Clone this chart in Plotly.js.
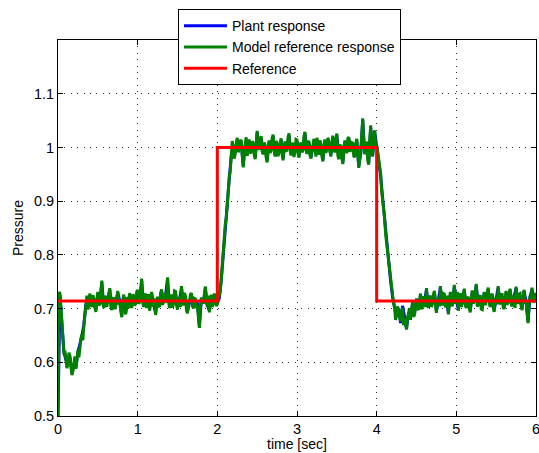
<!DOCTYPE html>
<html>
<head>
<meta charset="utf-8">
<script src="https://cdn.plot.ly/plotly-3.0.1.min.js"></script>
<style>
  html, body { margin: 0; padding: 0; background: #fff; }
  #plot { width: 539px; height: 453px; }
</style>
</head>
<body>
<div id="plot"></div>
<script>
// Sample periods of the logged signals [sec]
const modelSampleTime = 0.0125;
const plantSampleTime = 0.025;

// Model reference response (0 .. 6 s)
const modelResponse = [
  // start-up transient
  0.500, 0.731, 0.728, 0.702, 0.668, 0.641, 0.615, 0.621, 0.607, 0.589,
  0.598, 0.618, 0.612, 0.592, 0.576, 0.584, 0.601, 0.611, 0.588, 0.603,
  0.622, 0.609, 0.631, 0.644, 0.652, 0.641, 0.668, 0.689, 0.712, 0.724,
  // first low set-point
  0.698, 0.716, 0.728, 0.709, 0.703, 0.725, 0.719, 0.702, 0.694, 0.713,
  0.731, 0.706, 0.708, 0.729, 0.752, 0.712, 0.701, 0.719, 0.724, 0.703,
  0.712, 0.727, 0.738, 0.705, 0.697, 0.718, 0.721, 0.699, 0.706, 0.722,
  0.733, 0.708, 0.711, 0.697, 0.684, 0.715, 0.726, 0.704, 0.689, 0.721,
  0.717, 0.701, 0.729, 0.711, 0.701, 0.726, 0.724, 0.706, 0.709, 0.731,
  0.735, 0.709, 0.712, 0.724, 0.756, 0.713, 0.703, 0.722, 0.728, 0.701,
  0.714, 0.727, 0.696, 0.712, 0.731, 0.704, 0.707, 0.719, 0.688, 0.709,
  0.722, 0.705, 0.703, 0.728, 0.736, 0.707, 0.712, 0.725, 0.727, 0.711,
  0.758, 0.716, 0.701, 0.724, 0.724, 0.702, 0.709, 0.733, 0.732, 0.708,
  0.698, 0.721, 0.719, 0.703, 0.742, 0.714, 0.706, 0.729, 0.723, 0.697,
  0.691, 0.712, 0.714, 0.726, 0.729, 0.704, 0.703, 0.719, 0.718, 0.701,
  0.707, 0.684, 0.664, 0.702, 0.721, 0.713, 0.709, 0.727, 0.741, 0.711,
  0.704, 0.724, 0.693, 0.709, 0.726, 0.703, 0.711, 0.728, 0.719, 0.705,
  0.708, 0.715,
  // step up
  0.722, 0.733, 0.758, 0.786, 0.801, 0.839, 0.858, 0.869, 0.897, 0.931,
  0.946, 0.957, 0.982, 1.012, 1.003, 0.979,
  // high set-point
  0.988, 1.006, 1.018, 0.991, 0.997, 1.014, 1.012, 0.985, 0.963, 0.994,
  1.006, 1.019, 0.984, 1.002, 1.015, 0.989, 0.992, 1.011, 1.009, 0.987,
  0.978, 1.004, 1.031, 0.998, 0.996, 1.016, 1.021, 0.993, 0.987, 1.009,
  1.004, 0.981, 0.972, 1.001, 1.013, 0.990, 0.994, 1.017, 1.024, 0.996,
  0.983, 1.012, 1.008, 0.984, 0.991, 1.005, 1.017, 0.988, 0.976, 1.003,
  1.011, 0.992, 0.997, 1.019, 1.026, 0.994, 0.985, 1.008, 1.006, 0.982,
  0.993, 1.015, 1.014, 0.989, 0.981, 1.004, 1.009, 0.991, 0.995, 1.021,
  1.029, 0.997, 0.988, 1.010, 1.012, 0.986, 0.979, 1.002, 1.003, 1.016,
  0.992, 0.983, 1.018, 1.001, 0.986, 1.013, 1.007, 0.984, 0.974, 0.999,
  1.015, 0.990, 0.996, 1.018, 1.011, 0.993, 0.983, 1.006, 1.022, 0.997,
  0.991, 1.012, 1.026, 0.985, 0.978, 1.003, 1.005, 0.981, 0.969, 0.995,
  1.013, 1.002, 0.989, 1.017, 1.019, 0.992, 0.995, 1.009, 1.008, 0.984,
  0.982, 1.006, 1.016, 0.991, 0.962, 0.979, 0.991, 1.023, 1.054, 1.009,
  0.987, 1.003, 1.011, 0.976, 0.968, 1.012, 1.041, 0.994, 0.983, 1.021,
  1.032, 1.001, 1.004, 0.993,
  // step down
  0.978, 0.969, 0.951, 0.918, 0.902, 0.889, 0.868, 0.838, 0.821, 0.806,
  0.782, 0.769, 0.748, 0.731, 0.724, 0.709, 0.702, 0.679, 0.688, 0.704,
  // undershoot
  0.697, 0.684, 0.676, 0.691, 0.702, 0.669, 0.683, 0.671, 0.661, 0.682,
  0.694, 0.701, 0.679, 0.693, 0.712, 0.685, 0.688, 0.706, 0.719, 0.701,
  0.697, 0.712, 0.728, 0.699, 0.704, 0.723, 0.716, 0.703,
  // second low set-point
  0.738, 0.712, 0.701, 0.721, 0.724, 0.703, 0.709, 0.726, 0.733, 0.708,
  0.692, 0.715, 0.719, 0.704, 0.742, 0.713, 0.706, 0.728, 0.727, 0.702,
  0.712, 0.724, 0.689, 0.707, 0.731, 0.711, 0.704, 0.722, 0.744, 0.709,
  0.718, 0.731, 0.696, 0.712, 0.729, 0.703, 0.711, 0.726, 0.737, 0.706,
  0.701, 0.719, 0.722, 0.701, 0.693, 0.716, 0.734, 0.709, 0.714, 0.727,
  0.746, 0.704, 0.707, 0.721, 0.725, 0.699, 0.698, 0.718, 0.731, 0.706,
  0.716, 0.729, 0.739, 0.711, 0.703, 0.723, 0.728, 0.702, 0.694, 0.717,
  0.721, 0.708, 0.742, 0.715, 0.708, 0.726, 0.726, 0.703, 0.699, 0.719,
  0.733, 0.707, 0.712, 0.728, 0.737, 0.709, 0.704, 0.722, 0.723, 0.701,
  0.741, 0.716, 0.709, 0.727, 0.728, 0.705, 0.697, 0.718, 0.735, 0.709,
  0.716, 0.694, 0.673, 0.708, 0.724, 0.712, 0.739, 0.721, 0.711, 0.726,
  0.729
];

// Measured plant response
const plantResponse = [
  0.500, 0.725, 0.671, 0.618, 0.604, 0.601, 0.609, 0.579, 0.598, 0.591, 0.619, 0.634, 0.649, 0.671, 0.709,
  0.701, 0.725, 0.706, 0.716, 0.697, 0.728, 0.711, 0.749, 0.704, 0.721,
  0.715, 0.735, 0.700, 0.718, 0.709, 0.730, 0.714, 0.687, 0.723, 0.692,
  0.714, 0.726, 0.704, 0.721, 0.712, 0.732, 0.715, 0.753, 0.706, 0.725,
  0.717, 0.699, 0.728, 0.710, 0.691, 0.719, 0.706, 0.733, 0.715, 0.724,
  0.755, 0.704, 0.721, 0.712, 0.729, 0.701, 0.716, 0.739, 0.709, 0.720,
  0.694, 0.711, 0.726, 0.706, 0.715, 0.710, 0.667, 0.718, 0.712, 0.738,
  0.707, 0.696, 0.723, 0.714, 0.716, 0.711,
  0.719, 0.754, 0.805, 0.853, 0.901, 0.942, 0.985, 1.000,
  0.991, 1.015, 1.000, 1.009, 0.966, 1.003, 0.987, 1.012, 0.995, 1.006,
  0.981, 1.028, 0.999, 1.018, 0.990, 1.001, 0.975, 1.010, 0.997, 1.021,
  0.986, 1.005, 0.994, 1.014, 0.979, 1.008, 1.000, 1.023, 0.988, 1.003,
  0.996, 1.011, 0.984, 1.006, 0.998, 1.026, 0.991, 1.009, 0.982, 1.000,
  0.995, 1.015, 0.989, 1.004, 0.977, 1.012, 0.999, 1.008, 0.986, 1.019,
  0.994, 1.023, 0.981, 1.002, 0.972, 1.010, 0.992, 1.016, 0.998, 1.005,
  0.985, 1.013, 0.965, 0.988, 1.051, 0.990, 1.008, 0.971, 1.038, 0.986,
  1.029, 1.001,
  0.981, 0.947, 0.906, 0.864, 0.825, 0.779, 0.751, 0.721, 0.705, 0.685,
  0.700, 0.673, 0.705, 0.680, 0.664, 0.691, 0.682, 0.709, 0.691, 0.716, 0.700, 0.725, 0.707, 0.713,
  0.735, 0.704, 0.721, 0.712, 0.730, 0.695, 0.716, 0.739, 0.709, 0.724,
  0.715, 0.692, 0.728, 0.707, 0.741, 0.715, 0.699, 0.726, 0.714, 0.734,
  0.704, 0.719, 0.696, 0.731, 0.717, 0.743, 0.710, 0.722, 0.701, 0.728,
  0.713, 0.736, 0.706, 0.725, 0.697, 0.718, 0.739, 0.711, 0.723, 0.702,
  0.730, 0.715, 0.734, 0.707, 0.720, 0.738, 0.712, 0.725, 0.700, 0.732,
  0.713, 0.676, 0.721, 0.736, 0.714, 0.726
];

// Set-point profile (piecewise constant)
const refTime  = [0, 2, 2, 4, 4, 6];
const refValue = [0.714, 0.714, 1.0, 1.0, 0.714, 0.714];

// Axis ticks
const xTicks = [0, 1, 2, 3, 4, 5, 6];
const yTicks = [0.5, 0.6, 0.7, 0.8, 0.9, 1.0, 1.1];

const modelTime = modelResponse.map((_, i) => i * modelSampleTime);
const plantTime = plantResponse.map((_, i) => i * plantSampleTime);

const family = 'Liberation Sans, Arial, Helvetica, sans-serif';
const axisFont = { family: family, size: 14.5, color: '#000' };
const titleFont = { family: family, size: 14, color: '#000' };
const legendFont = { family: family, size: 14, color: '#000' };

const traces = [
  {
    x: plantTime, y: plantResponse, type: 'scatter', mode: 'lines',
    name: 'Plant response', line: { color: '#0000ff', width: 3 }
  },
  {
    x: modelTime, y: modelResponse, type: 'scatter', mode: 'lines',
    name: 'Model reference response', line: { color: '#008000', width: 3 }
  },
  {
    x: refTime, y: refValue, type: 'scatter', mode: 'lines',
    name: 'Reference', line: { color: '#ff0000', width: 3 }
  }
];

const axisCommon = {
  showline: true, linecolor: '#000', linewidth: 1, mirror: 'ticks',
  ticks: 'inside', ticklen: 5, tickcolor: '#000', tickwidth: 1,
  showgrid: true, gridcolor: '#333', griddash: '1px,5.4px', gridwidth: 1,
  zeroline: false, tickfont: axisFont, ticklabeloverflow: 'allow'
};

const layout = {
  width: 539, height: 453,
  margin: { l: 58, r: 3, t: 40, b: 37 },
  paper_bgcolor: '#fff', plot_bgcolor: '#fff',
  font: axisFont,
  showlegend: true,
  legend: {
    x: 0.251, y: 1.082, xanchor: 'left', yanchor: 'top',
    bgcolor: '#fff', bordercolor: '#000', borderwidth: 1,
    font: legendFont, tracegroupgap: 0, itemwidth: 43
  },
  xaxis: Object.assign({}, axisCommon, {
    range: [0, 6], tickvals: xTicks, ticktext: xTicks.map(String)
  }),
  yaxis: Object.assign({}, axisCommon, {
    range: [0.5, 1.2], tickvals: yTicks, ticktext: yTicks.map(v => String(v)),
    title: { text: 'Pressure', font: titleFont, standoff: 7 }
  }),
  // x-axis title placed just under the tick labels, near the bottom edge
  annotations: [{
    text: 'time [sec]', font: titleFont, showarrow: false,
    xref: 'paper', yref: 'paper', x: 0.5, y: -0.0745,
    xanchor: 'center', yanchor: 'middle'
  }]
};

Plotly.newPlot('plot', traces, layout, { displayModeBar: false, staticPlot: true });
</script>
</body>
</html>
